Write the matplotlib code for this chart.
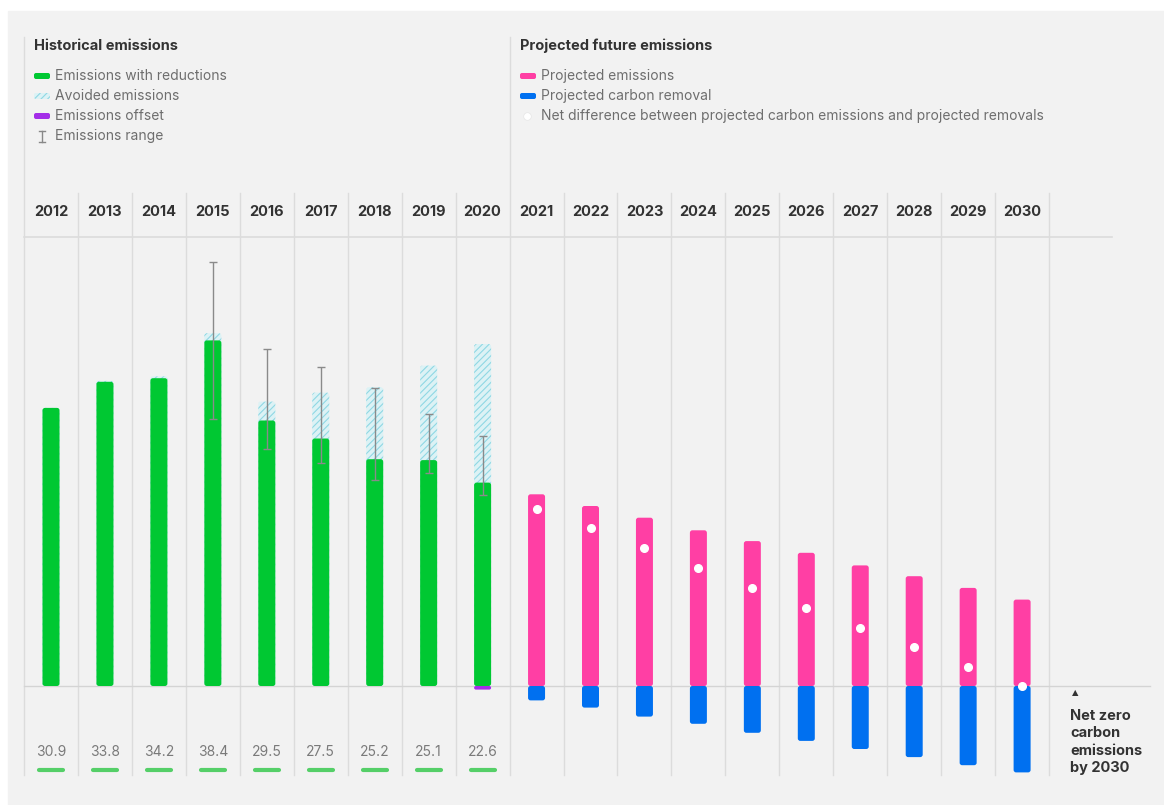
import matplotlib
matplotlib.use("Agg")
import matplotlib.pyplot as plt
from matplotlib.patches import Rectangle, FancyBboxPatch
import numpy as np

plt.rcParams['font.family'] = ['Inter', 'DejaVu Sans']
plt.rcParams['hatch.linewidth'] = 0.8

# Historical data (2012-2020)
hist_years = ['2012', '2013', '2014', '2015', '2016', '2017', '2018', '2019', '2020']
hist_emissions = [30.9, 33.8, 34.2, 38.4, 29.5, 27.5, 25.2, 25.1, 22.6]
hist_avoided_top = [30.9, 33.9, 34.4, 39.2, 31.6, 32.6, 33.2, 35.6, 38.0]
hist_offset = [0, 0, 0, 0, 0, 0, 0, 0, 0.4]
range_years = ['2015', '2016', '2017', '2018', '2019', '2020']
range_low = [29.7, 26.3, 24.8, 22.9, 23.7, 21.2]
range_high = [47.1, 37.4, 35.4, 33.1, 30.2, 27.8]

# Projected data (2021-2030)
proj_years = ['2021', '2022', '2023', '2024', '2025', '2026', '2027', '2028', '2029', '2030']
proj_emissions = [21.3, 20.0, 18.7, 17.3, 16.1, 14.8, 13.4, 12.2, 10.9, 9.6]
proj_removal = [1.6, 2.4, 3.4, 4.2, 5.2, 6.1, 7.0, 7.9, 8.8, 9.6]

GREEN = '#00c832'
PINK = '#ff3fa4'
BLUE = '#0070f0'
PURPLE = '#a42ee8'
HATCH = '#8fd8e4'
GRID = '#dcdcdc'
DARK = '#333333'
GREY = '#6e6e6e'

W, H = 1164, 805
fig = plt.figure(figsize=(W / 100, H / 100), dpi=100, facecolor='white')

# layout axes in pixel coordinates
lay = fig.add_axes([0, 0, 1, 1])
lay.set_xlim(0, W)
lay.set_ylim(H, 0)
lay.axis('off')
lay.add_patch(Rectangle((8, 11), W - 8, H - 11, color='#f2f2f2', zorder=0))

# data axes: column i centred at 51 + 53.95*i px, zero at 686 px, 9 px per unit
COL = 53.95
PPU = 9.0
ax = fig.add_axes([0, 0, 1, 1])
ax.set_xlim(-51 / COL, (W - 51) / COL)
ax.set_ylim((686 - H) / PPU, 686 / PPU)
ax.axis('off')
ax.patch.set_alpha(0)


def round_bars(bars, radius_px=2.5):
    # swap the plain rectangles for rounded ones with the same bounds
    for b in bars:
        x, y = b.get_x(), b.get_y()
        w, h = b.get_width(), b.get_height()
        if h < 0:
            y, h = y + h, -h
        r = min(radius_px, h * PPU / 2) / COL
        p = FancyBboxPatch((x, y), w, h,
                           boxstyle=f'round,pad=0,rounding_size={r}',
                           mutation_aspect=COL / PPU,
                           facecolor=b.get_facecolor(), edgecolor=b.get_edgecolor(),
                           hatch=b.get_hatch(), linewidth=0, zorder=b.get_zorder())
        b.remove()
        ax.add_patch(p)


all_years = hist_years + proj_years
xh = np.arange(len(hist_years))
xp = np.arange(len(proj_years)) + len(hist_years)
xr = np.array([all_years.index(y) for y in range_years])

# grid lines
n_cols = len(all_years)
for i in range(n_cols + 1):
    px = 24 + COL * i
    top = 37 if i in (0, len(hist_years)) else 193
    lay.plot([px, px], [top, 775], color=GRID, lw=1, zorder=1)
lay.plot([24, 1112], [237, 237], color=GRID, lw=1.2, zorder=1)
lay.plot([24, 1150], [686, 686], color='#d4d4d4', lw=1, zorder=1)

bw = 17 / COL
# avoided emissions (hatched), then green bars on top
round_bars(ax.bar(xh, hist_avoided_top, width=bw, color='#dcf2f5', edgecolor=HATCH,
                  hatch='/////', linewidth=0, zorder=3))
round_bars(ax.bar(xh, hist_emissions, width=bw, color=GREEN, linewidth=0, zorder=4))
round_bars(ax.bar(xh, [-v for v in hist_offset], width=bw, color=PURPLE,
                  linewidth=0, zorder=4))

# emissions range
mid = (np.array(range_low) + np.array(range_high)) / 2
err = (np.array(range_high) - np.array(range_low)) / 2
ax.errorbar(xr, mid, yerr=err, fmt='none', ecolor='#8a8a8a', elinewidth=1,
            capsize=3, capthick=1, zorder=5)

# projected
round_bars(ax.bar(xp, proj_emissions, width=bw, color=PINK, linewidth=0, zorder=4))
round_bars(ax.bar(xp, [-v for v in proj_removal], width=bw, color=BLUE,
                  linewidth=0, zorder=4))
net = np.array(proj_emissions) - np.array(proj_removal)
ax.plot(xp, net, 'o', ms=5.5, mfc='white', mec='white', zorder=6)

# year headers
for i, y in enumerate(all_years):
    ax.text(i, (686 - 212) / PPU, y, ha='center', va='center',
            fontsize=10.5, fontweight='bold', color=DARK)

# historical totals
for i, v in enumerate(hist_emissions):
    ax.text(i, (686 - 752) / PPU, f'{v:.1f}', ha='center', va='center',
            fontsize=10, color='#7a7a7a')
    ax.plot([i - 12 / COL, i + 12 / COL], [(686 - 770) / PPU] * 2,
            color='#55cf68', lw=3, solid_capstyle='round')

# net zero note
lay.text(1075, 693, '▲', ha='center', va='center', fontsize=6, color=DARK,
         family='DejaVu Sans')
lay.text(1070, 709, 'Net zero\ncarbon\nemissions\nby 2030', ha='left', va='top',
         fontsize=10.5, fontweight='bold', color=DARK, linespacing=1.3)

# legends
lay.text(34, 46, 'Historical emissions', ha='left', va='center',
         fontsize=10.5, fontweight='bold', color=DARK)
lay.text(520, 46, 'Projected future emissions', ha='left', va='center',
         fontsize=10.5, fontweight='bold', color=DARK)


def swatch(x, y, color, hatch=None):
    if hatch:
        lay.add_patch(FancyBboxPatch((x, y - 3), 16, 6, boxstyle='round,pad=0,rounding_size=2',
                                     facecolor='#dcf2f5', edgecolor=HATCH, hatch=hatch,
                                     lw=0, zorder=3))
    else:
        lay.add_patch(FancyBboxPatch((x, y - 3), 16, 6, boxstyle='round,pad=0,rounding_size=2',
                                     facecolor=color, lw=0, zorder=3))


left_items = ['Emissions with reductions', 'Avoided emissions',
              'Emissions offset', 'Emissions range']
for k, lab in enumerate(left_items):
    yy = 76 + 20 * k
    lay.text(55, yy, lab, ha='left', va='center', fontsize=10, color=GREY)
swatch(34, 76, GREEN)
swatch(34, 96, None, hatch='/////')
swatch(34, 116, PURPLE)
lay.plot([42, 42], [131, 142], color='#888888', lw=1)
lay.plot([39, 45], [131, 131], color='#888888', lw=1)
lay.plot([39, 45], [142, 142], color='#888888', lw=1)

right_items = ['Projected emissions', 'Projected carbon removal',
               'Net difference between projected carbon emissions and projected removals']
for k, lab in enumerate(right_items):
    yy = 76 + 20 * k
    lay.text(541, yy, lab, ha='left', va='center', fontsize=10, color=GREY)
swatch(520, 76, PINK)
swatch(520, 96, BLUE)
lay.plot([527], [116], 'o', ms=5.5, mfc='white', mec='#e6e6e6', mew=0.5)

fig.savefig('out.png', dpi=100, facecolor=fig.get_facecolor())
